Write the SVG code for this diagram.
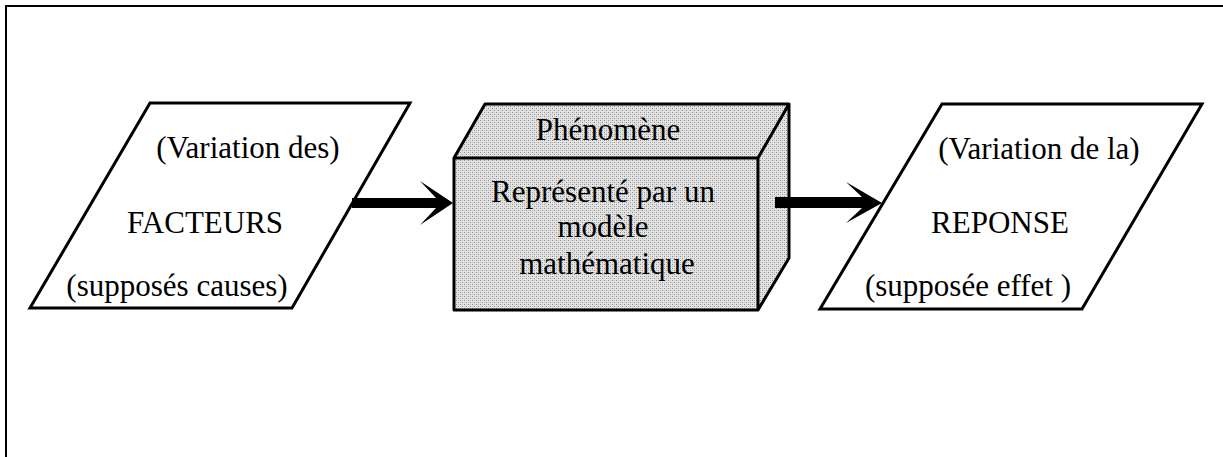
<svg xmlns="http://www.w3.org/2000/svg" width="1223" height="457" viewBox="0 0 1223 457">
<style>
.shape{fill:#fff;stroke:#000;stroke-width:3;stroke-linejoin:miter}
.box{fill:url(#stipple);stroke:none}
.edge{fill:none;stroke:#000;stroke-width:3;stroke-linejoin:round;stroke-linecap:round}
.lbl{font-family:"Liberation Serif","Times New Roman",serif;font-size:31px;fill:#000;text-anchor:middle}
.arrow{fill:#000;stroke:none}
</style>
<defs>
<pattern id="stipple" width="4" height="4" patternUnits="userSpaceOnUse">
<rect width="4" height="4" fill="#e4e4e4"/>
<rect x="0" y="0" width="1" height="1" fill="#8c8c8c"/>
<rect x="2" y="2" width="1" height="1" fill="#8c8c8c"/>
<rect x="2" y="0" width="1" height="1" fill="#c4c4c4"/>
<rect x="0" y="2" width="1" height="1" fill="#c4c4c4"/>
</pattern>
</defs>
<rect width="1223" height="457" fill="#fff"/>
<g id="frame">
<path d="M6,457 V6 H1223" fill="none" stroke="#000" stroke-width="2"/>
</g>
<g id="facteurs">
<polygon class="shape" points="150,103 410,103 292,308 30,308"/>
<text class="lbl" x="248" y="158">(Variation des)</text>
<text class="lbl" x="205" y="233">FACTEURS</text>
<text class="lbl" x="177" y="296">(supposés causes)</text>
</g>
<g id="phenomene">
<polygon class="box" points="485,104 789,104 789,258 758,310 454,310 454,158"/>
<path class="edge" d="M454,158 L485,104 H789 V258 L758,310 H454 Z M454,158 H758 V310 M758,158 L789,104"/>
<text class="lbl" x="608" y="140">Phénomène</text>
<text class="lbl" x="603" y="202">Représenté par un</text>
<text class="lbl" x="603" y="237">modèle</text>
<text class="lbl" x="607" y="274">mathématique</text>
</g>
<g id="reponse">
<polygon class="shape" points="942,104 1202,104 1082,309 820,309"/>
<text class="lbl" x="1039" y="159">(Variation de la)</text>
<text class="lbl" x="1000" y="233">REPONSE</text>
<text class="lbl" x="968" y="296">(supposée effet )</text>
</g>
<g id="connectors">
<polygon class="arrow" points="352,198 436,198 420,181 453,203 420,225 436,208 352,208"/>
<polygon class="arrow" points="775,197 862,197 846,182 882,203 846,223 862,208 775,208"/>
</g>
</svg>
